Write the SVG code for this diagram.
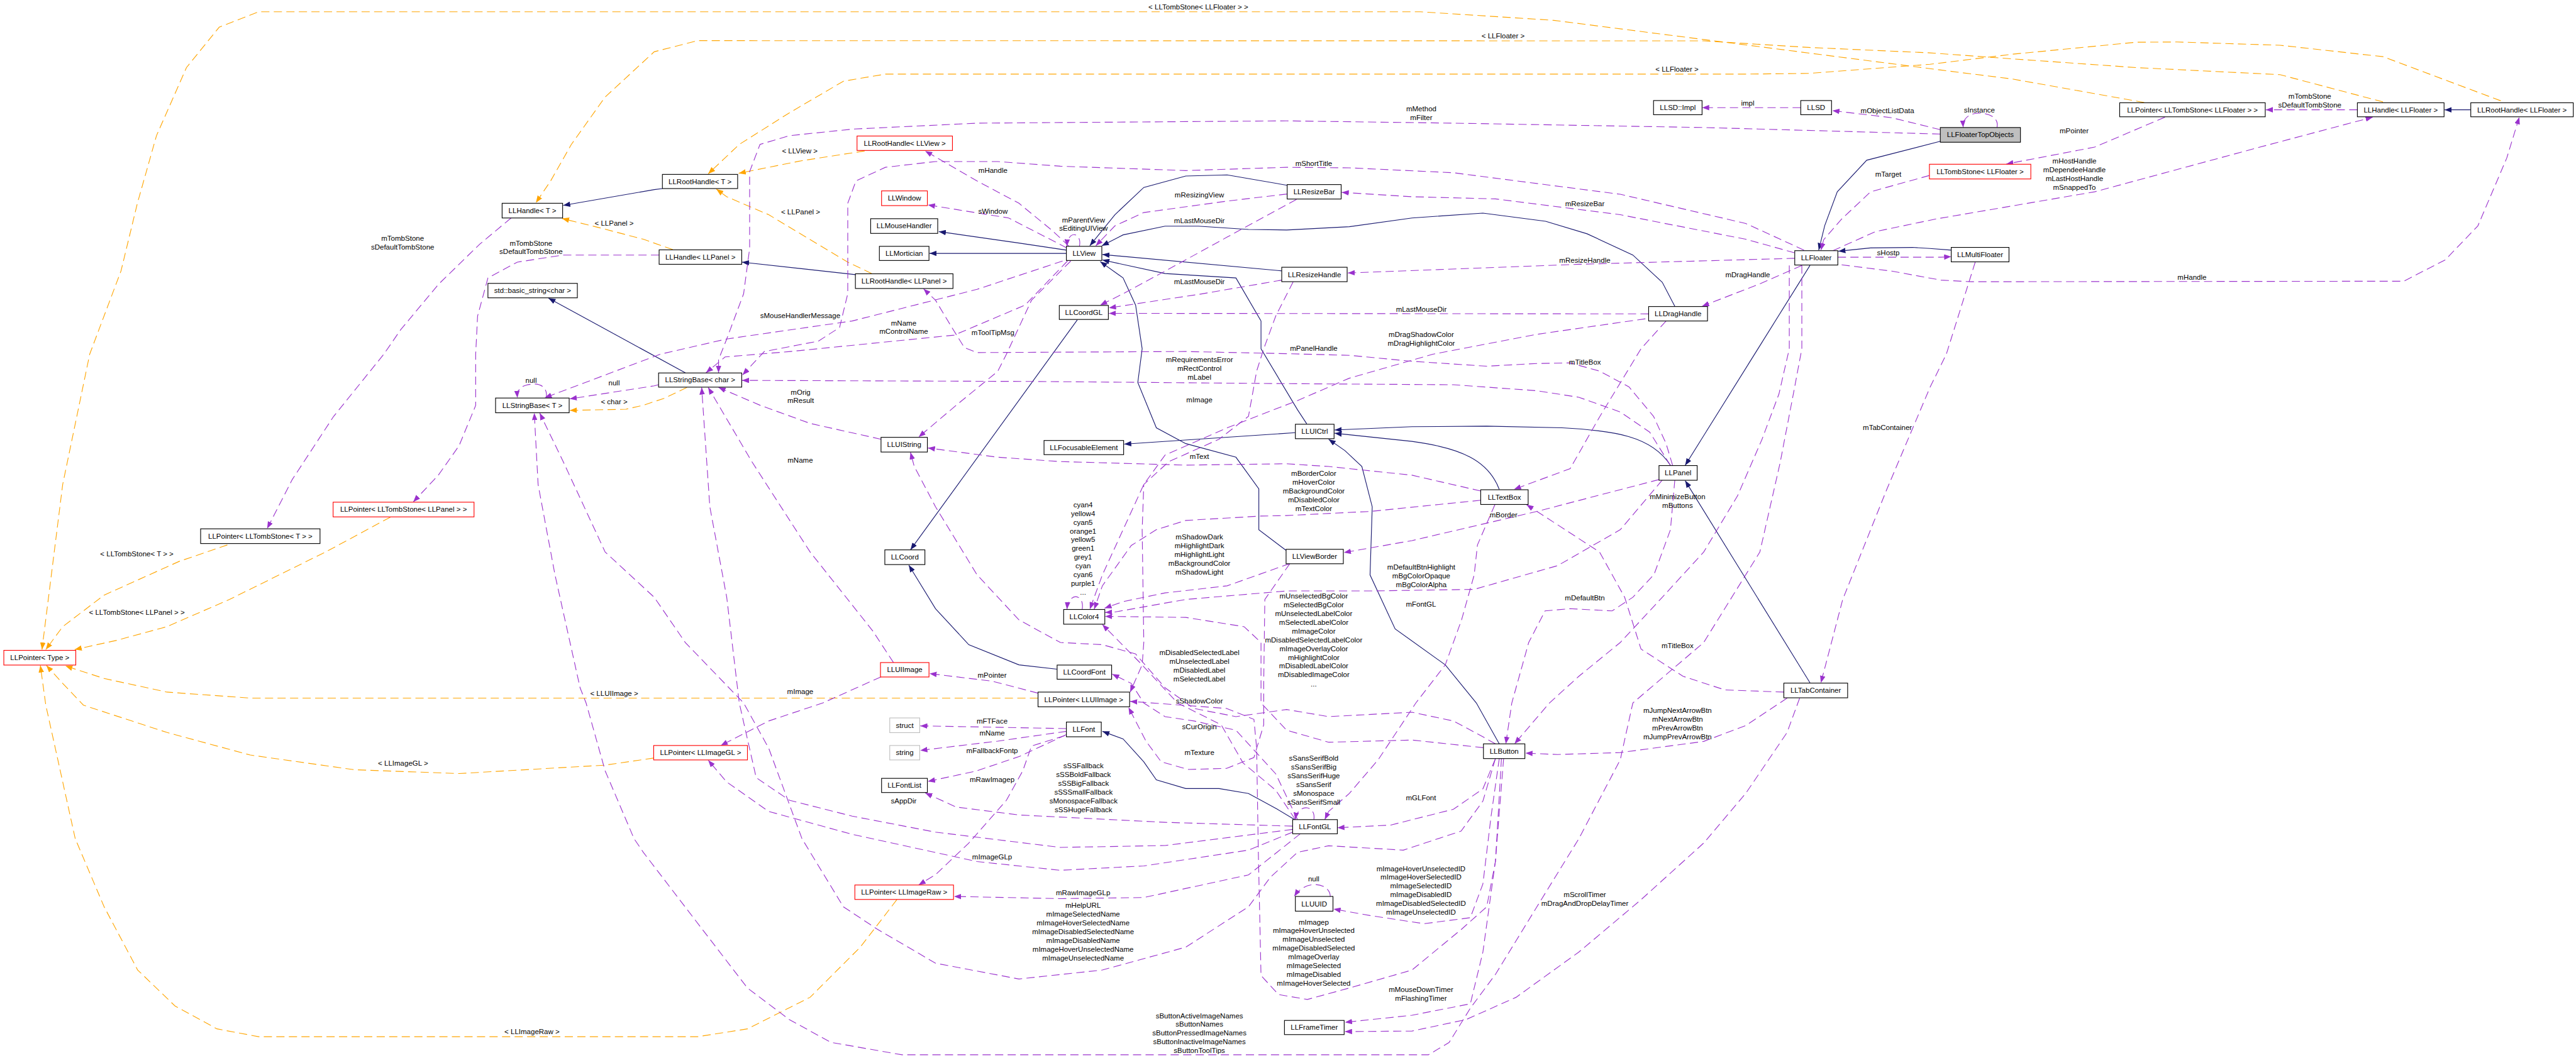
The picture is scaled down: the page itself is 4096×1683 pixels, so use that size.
<svg xmlns="http://www.w3.org/2000/svg" width="4096" height="1683" viewBox="0 0 4096 1683">
<defs>
<style>
.n rect{fill:#fff;stroke:#000;stroke-width:1.3}
.n.r rect{stroke:#ff0000}
.n.g rect{stroke:#bfbfbf}
.n.f rect{fill:#bfbfbf}
text{font-family:"Liberation Sans",Arial,sans-serif;font-size:13.3px;fill:#000;text-anchor:middle}
.e path{fill:none;stroke-width:1.3}
.e .i{stroke:#191970;marker-end:url(#an)}
.e .u{stroke:#9a32cd;stroke-dasharray:15,8;marker-end:url(#ap)}
.e .o{stroke:#ffa500;stroke-dasharray:15,8;marker-end:url(#ao)}
</style>
<marker id="an" viewBox="0 0 13 10" refX="13" refY="5" markerWidth="13" markerHeight="10" markerUnits="userSpaceOnUse" orient="auto"><path d="M0,0 L13,5 L0,10 z" fill="#191970"/></marker>
<marker id="ap" viewBox="0 0 13 10" refX="13" refY="5" markerWidth="13" markerHeight="10" markerUnits="userSpaceOnUse" orient="auto"><path d="M0,0 L13,5 L0,10 z" fill="#9a32cd"/></marker>
<marker id="ao" viewBox="0 0 13 10" refX="13" refY="5" markerWidth="13" markerHeight="10" markerUnits="userSpaceOnUse" orient="auto"><path d="M0,0 L13,5 L0,10 z" fill="#ffa500"/></marker>
</defs>
<rect width="4096" height="1683" fill="#fff"/>
<g transform="scale(0.866878)">
<g id="edges" class="e">
<!-- inheritance -->
<path class="i" d="M3560,259 L3424,294 L3370,352 L3347,414 L3336,459"/>
<path class="i" d="M3320,487 L3091,854"/>
<path class="i" d="M3579,459 L3540,456 L3508,454 L3431,455 L3372,461"/>
<path class="i" d="M3064,854 C3030,800 2960,790 2865,785 L2727,782 L2590,783 L2448,789"/>
<path class="i" d="M2750,898 C2730,845 2680,822 2590,810 L2448,795"/>
<path class="i" d="M3320,1253 L3091,882"/>
<path class="i" d="M2750,1365 L2708,1290 L2651,1220 L2559,1154 L2513,1055 L2517,930 L2498,856 L2467,827 L2437,806"/>
<path class="i" d="M2376,794 L2062,815"/>
<path class="i" d="M2397,778 L2380,752 L2313,640 L2313,589 L2267,510 L2137,502 L2022,477"/>
<path class="i" d="M2359,1010 L2309,972 L2309,897 L2267,839 L2175,814 L2121,785 L2087,702 L2095,640 L2083,560 L2060,510 L2018,480"/>
<path class="i" d="M2361,340 L2251,321 L2175,323 L2098,344 L2045,394 L1999,451"/>
<path class="i" d="M3072,562 L3049,518 L2995,468 L2911,429 L2835,406 L2720,391 L2590,400 L2475,416 L2360,422 L2290,421 L2198,415 L2137,415 L2060,431 L2021,451"/>
<path class="i" d="M2351,497 L2022,467"/>
<path class="i" d="M1956,459 L1869,446 L1722,425"/>
<path class="i" d="M1956,465 L1705,465"/>
<path class="i" d="M1976,587 L1670,1009"/>
<path class="i" d="M1939,1228 L1869,1220 L1777,1183 L1716,1117 L1667,1037"/>
<path class="i" d="M2378,1506 L2343,1485 L2290,1456 L2236,1447 L2175,1447 L2121,1431 L2098,1398 L2060,1356 L2022,1342"/>
<path class="i" d="M1569,504 L1361,481"/>
<path class="i" d="M1215,346 L1200,348 L1033,377"/>
<path class="i" d="M1257,684 L1006,547"/>
<path class="i" d="M4532,201.5 L4484,201.5"/>
<!-- templates -->
<path class="o" d="M3933,188 L3691,145 L3560,128.5 L3125,72.5 L2850,37.3 L2605,21.6 L474.5,21.6 L402,50 L342,124 L287,249 L252,373 L222,497 L164.5,650 L115,889 L77,1192"/>
<path class="o" d="M4371,187 L4182,137 L3918,124 L3691,108 L3540,97 L3317,87 L3125,75 L1279.5,74.6 L1200,95 L1110,178 L1048,265 L1010,332 L983,372"/>
<path class="o" d="M4587,185 L4371,104 L4182,83 L3993,77 L3918,77.5 L3691,99.5 L3540,118 L3317,134.7 L3200,136 L1624,136 L1547,149 L1448,207 L1356,265 L1299,319"/>
<path class="o" d="M1586,277 L1470,295 L1355,318"/>
<path class="o" d="M1599,502 L1555,481 L1410,394 L1333,361 L1314,347"/>
<path class="o" d="M1234,458 L1180,439 L1100,418 L1031,401"/>
<path class="o" d="M417,1000 L329,1030 L191,1092 L115,1150 L84,1192"/>
<path class="o" d="M716,949 L597,1013 L421,1100 L306,1150 L214,1175 L137,1192"/>
<path class="o" d="M1904,1281 L459,1281 L306,1270 L191,1245 L120,1222"/>
<path class="o" d="M1199,1391 L1110,1404 L842,1419.5 L650,1412.5 L459,1385.5 L306,1344 L153,1294 L115,1254 L85,1221"/>
<path class="o" d="M1645,1651 L1578,1738 L1486,1830 L1371,1888 L1279.5,1902.4 L474.5,1902.4 L398,1888 L321,1846 L252.5,1780 L191,1664 L138,1539 L84,1294 L74,1221"/>
<path class="o" d="M1260,711 L1218,731 L1180,743.6 L1148,751 L1045,753"/>
<!-- usage -->
<path class="u" d="M3663,234 C3668,212 3640,206 3625,208 C3608,210 3600,220 3601,234"/>
<path class="u" d="M3559,238 L3470,216 L3361,203"/>
<path class="u" d="M3303,197.5 L3122,197.5"/>
<path class="u" d="M3559,246 L3125,234 L2666,226 L2360,221.8 L1792,226 L1563,237 L1448,249 L1394,265 L1375,315 L1375,456 L1364,539 L1333,622 L1318,660 L1318,684"/>
<path class="u" d="M3971,215 L3842,270 L3680,301"/>
<path class="u" d="M4324,201.5 L4156,201.5"/>
<path class="u" d="M3362,460 L3440,425 L3550,402 L3842,352 L4145,270 L4352,215"/>
<path class="u" d="M3378,486 L3470,497.5 L3560,514 L3616,517 L4409,516 L4485,477 L4545,414.5 L4598,290 L4621,215"/>
<path class="u" d="M3371,472 L3560,472 L3579,471"/>
<path class="u" d="M3539,322 L3431,352 L3378,402 L3345,440 L3340,459"/>
<path class="u" d="M3292,464 L3202,439 L2972,394 L2743,365 L2590,361 L2461,353"/>
<path class="u" d="M3309,459 L3202,410 L2972,356.5 L2666,317 L2475,308 L2360,307 L2175,313 L1945,305 L1830,296.4 L1716,296.4 L1624,307 L1570,332 L1555,373 L1555,539 L1540,601 L1501,626 L1402,645 L1362,688"/>
<path class="u" d="M3292,474 L2896,485 L2472,501"/>
<path class="u" d="M3305,487 L3230,520 L3122,562"/>
<path class="u" d="M3018,585 L2819,613.5 L2628,650 L2590,661 L2475,694 L2380,735 L2251,785 L2137,835 L2098,889 L2060,972 L2022,1055 L1999,1118"/>
<path class="u" d="M1985,1118 C1990,1090 1960,1085 1957,1118"/>
<path class="u" d="M2366,1034 L2251,1075 L2137,1088 L2060,1104 L2026,1116"/>
<path class="u" d="M2716,918 L2513,938.5 L2360,946 L2313,947 L2175,955 L2121,972 L2075,1001 L2022,1075 L2007,1118"/>
<path class="u" d="M2716,901 L2590,872 L2437,856 L2360,851 L2175,853.5 L1945,847 L1830,839 L1702,822"/>
<path class="u" d="M3043,880 L2819,938.5 L2590,992 L2465,1014"/>
<path class="u" d="M3049,881 L2972,972 L2857,1038 L2704,1081.5 L2513,1084.4 L2360,1084.4 L2175,1100 L2045,1123 L2027,1124"/>
<path class="u" d="M2721,1372 L2590,1358 L2437,1362 L2360,1340 L2313,1290 L2313,1179 L2282,1150 L2175,1133 L2027,1131"/>
<path class="u" d="M2376,1504 L2340,1450 L2280,1400 L2240,1330 L2160,1290 L2090,1215 L2022,1146"/>
<path class="u" d="M2380,1504 L2340,1420 L2267,1340 L2190,1323 L2137,1315 L2098,1290 L2075,1254 L2040,1237"/>
<path class="u" d="M2366,1034 L2320,1100 L2318,1250 L2318,1330 L2300,1390 L2250,1410 L2180,1412 L2130,1398 L2102,1360 L2070,1298"/>
<path class="u" d="M2372,517 L2340,580 L2318,640 L2305,681 L2290,764 L2236,806 L2144,847 L2098,889 L2095,972 L2098,1179 L2095,1220 L2073,1270"/>
<path class="u" d="M3068,854 L3056,814 L3033,764 L2988,710 L2934,681 L2880,666 L2819,667 L2727,672 L2590,663 L2475,652 L2360,649 L2175,645 L1792,647 L1769,638 L1746,601 L1716,551 L1694,530"/>
<path class="u" d="M3064,854 L3026,793 L2972,756 L2896,729 L2819,717 L2666,706 L2360,704 L1900,700 L1361,698"/>
<path class="u" d="M1961,452 L1930,423 L1869,373 L1792,332 L1697,277"/>
<path class="u" d="M1957,455 L1850,400 L1702,376"/>
<path class="u" d="M1980,452 C1985,425 1958,422 1957,452"/>
<path class="u" d="M2361,356 L2251,369 L2098,390 L2045,414.5 L2010,451"/>
<path class="u" d="M2378,366 L2251,435 L2137,497.5 L2060,539 L2018,560"/>
<path class="u" d="M2351,514 L2200,540 L2034,565"/>
<path class="u" d="M3024,576 L2034,575"/>
<path class="u" d="M1949,479 L1792,531 L1563,589 L1333,622 L1211,650 L999,730"/>
<path class="u" d="M1958,479 L1880,560 L1750,615 L1600,630 L1450,645 L1330,655 L1295,684"/>
<path class="u" d="M1964,479 L1945,498 L1892,551 L1846,650 L1830,681.5 L1754,743.6 L1685,802"/>
<path class="u" d="M1616,806 L1486,777 L1394,743.6 L1318,711"/>
<path class="u" d="M1639,1216 L1601,1158 L1486,1013 L1379,847 L1299,711"/>
<path class="u" d="M1904,1272 L1820,1250 L1705,1236"/>
<path class="u" d="M1616,1242 L1509,1290 L1410,1323 L1322,1368"/>
<path class="u" d="M1956,1337 L1688,1332"/>
<path class="u" d="M1956,1342 L1830,1360 L1688,1377"/>
<path class="u" d="M1956,1348 L1870,1388 L1790,1415 L1702,1434"/>
<path class="u" d="M1953,1350 L1892,1369 L1876,1414.5 L1846,1468.5 L1777,1547 L1716,1605 L1685,1624"/>
<path class="u" d="M2385,1530 L2290,1605.5 L2098,1647 L1945,1649 L1750,1645"/>
<path class="u" d="M2371,1527 L2290,1560 L2098,1589 L1945,1597 L1792,1581 L1563,1531 L1410,1489 L1333,1435 L1299,1395"/>
<path class="u" d="M2371,1516 L2137,1509 L1869,1495.5 L1754,1481 L1697,1455"/>
<path class="u" d="M2371,1522 L2137,1551.6 L1945,1555 L1716,1527 L1563,1497.6 L1448,1468.5 L1387,1427 L1356,1290 L1333,1096 L1302,930 L1287,711"/>
<path class="u" d="M2410,1504 C2414,1476 2380,1474 2376,1504"/>
<path class="u" d="M2742,926 L2710,1000 L2704,1055 L2681,1137 L2651,1220 L2597,1290 L2528,1394 L2475,1456 L2437,1489 L2430,1504"/>
<path class="u" d="M2743,1392 L2720,1447.5 L2666,1485 L2551,1514 L2453,1519"/>
<path class="u" d="M2750,1392 L2735,1497.6 L2720,1622 L2697,1684 L2612,1695 L2513,1680 L2446,1668"/>
<path class="u" d="M2440,1645 C2440,1620 2395,1612 2374,1645"/>
<path class="u" d="M2754,1392 L2743,1581 L2727,1664 L2681,1705 L2590,1780 L2475,1813 L2398,1834 L2345,1825 L2313,1790 L2308,1560 L2305,1373 L2300,1320 L2250,1300 L2073,1287"/>
<path class="u" d="M2758,1392 L2743,1580 L2720,1747 L2697,1842 L2590,1863 L2467,1876"/>
<path class="u" d="M3301,1281 L3278,1344 L3202,1456 L3125,1547 L3010,1651 L2896,1747 L2781,1830 L2689,1871 L2590,1892 L2467,1893"/>
<path class="u" d="M3278,1281 L3202,1331.5 L3125,1360.5 L2972,1381 L2857,1384.5 L2798,1382"/>
<path class="u" d="M3272,1270 L3164,1266 L3087,1241 L3010,1191 L2980,1096 L2934,1013 L2857,963 L2800,926"/>
<path class="u" d="M3056,589 L3010,640 L2934,765 L2880,860 L2777,898"/>
<path class="u" d="M3623,481 L3570,650 L3540,711 L3460,900 L3380,1100 L3340,1253"/>
<path class="u" d="M3072,881 L3064,972 L3034,1054 L2995,1096 L2957,1121 L2880,1117 L2834,1121 L2804,1179 L2773,1290 L2762,1365"/>
<path class="u" d="M3282,487 L3282,640 L3263,723 L3232,806 L3187,910 L3125,1013 L3049,1096 L2972,1179 L2896,1241 L2842,1290 L2778,1365"/>
<path class="u" d="M3305,487 L3305,640 L3290,720 L3265,850 L3228,1013 L3125,1179 L2995,1290 L2972,1394 L2896,1539 L2819,1664 L2743,1788 L2697,1850 L2658,1913 L2620,1935.6 L1654.5,1935.6 L1524,1912.7 L1448,1871 L1371,1813 L1256.5,1664 L1180,1564 L1163,1539 L1110,1414.5 L1075,1290 L1064,1262 L1018,1055 L987,889 L980,758"/>
<path class="u" d="M2743,1392 L2720,1470 L2680,1525 L2574,1560 L2437,1552 L2380,1564 L2330,1610 L2290,1664 L2175,1738 L2022,1780 L1869,1796.5 L1716,1767.5 L1609,1705 L1547,1664 L1471,1539 L1410,1373 L1364,1290 L1257,1179 L1200,1096 L1110,1013 L1033,847 L990,758"/>
<path class="u" d="M2743,1365 L2720,1352 L2666,1323 L2590,1307 L2437,1315 L2360,1302 L2267,1315 L2190,1300 L2137,1262 L2083,1200 L2022,1183 L1945,1179 L1869,1137.5 L1792,1054.6 L1716,930 L1677,856 L1670,830"/>
<path class="u" d="M1209,468 L1033,468 L949,481 L895,510 L876,580 L872.5,650 L872.5,744 L842,818 L804,872 L758,921"/>
<path class="u" d="M937.5,400 L880,448 L804,522 L735,605 L704,650 L612,764 L536,880 L490,970"/>
<path class="u" d="M1208,706 L1200,708 L1045,732"/>
<path class="u" d="M1002,730 C1005,710 990,703 975,705 C955,707 948,715 949,730"/>
</g>
<g id="labels">
<text x="2198" y="17">&lt; LLTombStone&lt; LLFloater &gt; &gt;</text>
<text x="2757" y="70">&lt; LLFloater &gt;</text>
<text x="3076" y="132">&lt; LLFloater &gt;</text>
<text x="1467" y="282">&lt; LLView &gt;</text>
<text x="1468.5" y="393">&lt; LLPanel &gt;</text>
<text x="1126.5" y="414.5">&lt; LLPanel &gt;</text>
<text x="251" y="1020.5">&lt; LLTombStone&lt; T &gt; &gt;</text>
<text x="251" y="1128.3">&lt; LLTombStone&lt; LLPanel &gt; &gt;</text>
<text x="1126.5" y="1276.5">&lt; LLUIImage &gt;</text>
<text x="739.3" y="1404.5">&lt; LLImageGL &gt;</text>
<text x="975.8" y="1897.7">&lt; LLImageRaw &gt;</text>
<text x="1126.5" y="742.3">&lt; char &gt;</text>
<text x="3630.7" y="206.5">sInstance</text>
<text x="3462" y="208">mObjectListData</text>
<text x="3205.7" y="193.5">impl</text>
<text x="2607" y="204.3">mMethod<tspan x="2607" dy="15.8">mFilter</tspan></text>
<text x="3804.5" y="244.9">mPointer</text>
<text x="4236.8" y="181.5">mTombStone<tspan x="4236.8" dy="15.8">sDefaultTombStone</tspan></text>
<text x="3805" y="300.1">mHostHandle<tspan x="3805" dy="16.1">mDependeeHandle</tspan><tspan x="3805" dy="16.1">mLastHostHandle</tspan><tspan x="3805" dy="16.1">mSnappedTo</tspan></text>
<text x="4020.6" y="513.5">mHandle</text>
<text x="3463.6" y="324.1">mTarget</text>
<text x="3463.6" y="468">sHostp</text>
<text x="2409.7" y="305">mShortTitle</text>
<text x="2907" y="378">mResizeBar</text>
<text x="2907" y="482">mResizeHandle</text>
<text x="3205.7" y="509">mDragHandle</text>
<text x="2607" y="572">mLastMouseDir</text>
<text x="2607" y="618">mDragShadowColor<tspan x="2607" dy="16.1">mDragHighlightColor</tspan></text>
<text x="2409.7" y="644.1">mPanelHandle</text>
<text x="1821.3" y="317.1">mHandle</text>
<text x="1821.3" y="392.1">sWindow</text>
<text x="2200" y="361.8">mResizingView</text>
<text x="1987.4" y="407.8">mParentView<tspan x="1987.4" dy="16.1">sEditingUIView</tspan></text>
<text x="2200" y="409.1">mLastMouseDir</text>
<text x="2200" y="521">mLastMouseDir</text>
<text x="1467.8" y="584">sMouseHandlerMessage</text>
<text x="1657.6" y="597.3">mName<tspan x="1657.6" dy="15.8">mControlName</tspan></text>
<text x="1821.3" y="614.3">mToolTipMsg</text>
<text x="738.5" y="442.3">mTombStone<tspan x="738.5" dy="16.1">sDefaultTombStone</tspan></text>
<text x="974" y="450.5">mTombStone<tspan x="974" dy="16.1">sDefaultTombStone</tspan></text>
<text x="974.2" y="702.5">null</text>
<text x="1126.5" y="706.7">null</text>
<text x="2200" y="664">mRequirementsError<tspan x="2200" dy="16.1">mRectControl</tspan><tspan x="2200" dy="16.1">mLabel</tspan></text>
<text x="1468.5" y="724.1">mOrig<tspan x="1468.5" dy="15.7">mResult</tspan></text>
<text x="2200" y="738.2">mImage</text>
<text x="2200" y="842.2">mText</text>
<text x="1467.8" y="848.9">mName</text>
<text x="1986.6" y="930.5">cyan4<tspan x="1986.6" dy="16.1">yellow4</tspan><tspan x="1986.6" dy="16.1">cyan5</tspan><tspan x="1986.6" dy="16.1">orange1</tspan><tspan x="1986.6" dy="16.1">yellow5</tspan><tspan x="1986.6" dy="16.1">green1</tspan><tspan x="1986.6" dy="16.1">grey1</tspan><tspan x="1986.6" dy="16.1">cyan</tspan><tspan x="1986.6" dy="16.1">cyan6</tspan><tspan x="1986.6" dy="16.1">purple1</tspan><tspan x="1986.6" dy="16.1">...</tspan></text>
<text x="2200" y="989.8">mShadowDark<tspan x="2200" dy="16.1">mHighlightDark</tspan><tspan x="2200" dy="16.1">mHighlightLight</tspan><tspan x="2200" dy="16.1">mBackgroundColor</tspan><tspan x="2200" dy="16.1">mShadowLight</tspan></text>
<text x="2200" y="1202.1">mDisabledSelectedLabel<tspan x="2200" dy="16.1">mUnselectedLabel</tspan><tspan x="2200" dy="16.1">mDisabledLabel</tspan><tspan x="2200" dy="16.1">mSelectedLabel</tspan></text>
<text x="1819.8" y="1243.9">mPointer</text>
<text x="1467.8" y="1273.4">mImage</text>
<text x="2200" y="1291.2">sShadowColor</text>
<text x="2907.2" y="669.4">mTitleBox</text>
<text x="2409.7" y="872.9">mBorderColor<tspan x="2409.7" dy="16.1">mHoverColor</tspan><tspan x="2409.7" dy="16.1">mBackgroundColor</tspan><tspan x="2409.7" dy="16.1">mDisabledColor</tspan><tspan x="2409.7" dy="16.1">mTextColor</tspan></text>
<text x="3077" y="916">mMinimizeButton<tspan x="3077" dy="16.2">mButtons</tspan></text>
<text x="2758" y="949.2">mBorder</text>
<text x="3462" y="789.2">mTabContainer</text>
<text x="2607" y="1045.4">mDefaultBtnHighlight<tspan x="2607" dy="16">mBgColorOpaque</tspan><tspan x="2607" dy="16">mBgColorAlpha</tspan></text>
<text x="2907" y="1102.2">mDefaultBtn</text>
<text x="2606.4" y="1112.9">mFontGL</text>
<text x="2409.7" y="1098">mUnselectedBgColor<tspan x="2409.7" dy="16.1">mSelectedBgColor</tspan><tspan x="2409.7" dy="16.1">mUnselectedLabelColor</tspan><tspan x="2409.7" dy="16.1">mSelectedLabelColor</tspan><tspan x="2409.7" dy="16.1">mImageColor</tspan><tspan x="2409.7" dy="16.1">mDisabledSelectedLabelColor</tspan><tspan x="2409.7" dy="16.1">mImageOverlayColor</tspan><tspan x="2409.7" dy="16.1">mHighlightColor</tspan><tspan x="2409.7" dy="16.1">mDisabledLabelColor</tspan><tspan x="2409.7" dy="16.1">mDisabledImageColor</tspan><tspan x="2409.7" dy="17">...</tspan></text>
<text x="3077" y="1188.8">mTitleBox</text>
<text x="1819.8" y="1328.1">mFTFace</text>
<text x="1819.8" y="1350.1">mName</text>
<text x="1819.8" y="1382.1">mFallbackFontp</text>
<text x="1819.8" y="1434.5">mRawImagep</text>
<text x="1657.6" y="1474.3">sAppDir</text>
<text x="1987.4" y="1409.9">sSSFallback<tspan x="1987.4" dy="16.1">sSSBoldFallback</tspan><tspan x="1987.4" dy="16.1">sSSBigFallback</tspan><tspan x="1987.4" dy="16.1">sSSSmallFallback</tspan><tspan x="1987.4" dy="16.1">sMonospaceFallback</tspan><tspan x="1987.4" dy="16.1">sSSHugeFallback</tspan></text>
<text x="2200" y="1338.5">sCurOrigin</text>
<text x="2200" y="1385">mTexture</text>
<text x="1819.8" y="1576.4">mImageGLp</text>
<text x="1986.6" y="1642.5">mRawImageGLp</text>
<text x="1986.6" y="1666.1">mHelpURL<tspan x="1986.6" dy="16.05">mImageSelectedName</tspan><tspan x="1986.6" dy="16.05">mImageHoverSelectedName</tspan><tspan x="1986.6" dy="16.05">mImageDisabledSelectedName</tspan><tspan x="1986.6" dy="16.05">mImageDisabledName</tspan><tspan x="1986.6" dy="16.05">mImageHoverUnselectedName</tspan><tspan x="1986.6" dy="16.05">mImageUnselectedName</tspan></text>
<text x="2200" y="1868.3">sButtonActiveImageNames<tspan x="2200" dy="15.9">sButtonNames</tspan><tspan x="2200" dy="15.9">sButtonPressedImageNames</tspan><tspan x="2200" dy="15.9">sButtonInactiveImageNames</tspan><tspan x="2200" dy="15.9">sButtonToolTips</tspan></text>
<text x="3077" y="1308.2">mJumpNextArrowBtn<tspan x="3077" dy="16.1">mNextArrowBtn</tspan><tspan x="3077" dy="16.1">mPrevArrowBtn</tspan><tspan x="3077" dy="16.1">mJumpPrevArrowBtn</tspan></text>
<text x="2409.7" y="1396.2">sSansSerifBold<tspan x="2409.7" dy="16">sSansSerifBig</tspan><tspan x="2409.7" dy="16">sSansSerifHuge</tspan><tspan x="2409.7" dy="16">sSansSerif</tspan><tspan x="2409.7" dy="16">sMonospace</tspan><tspan x="2409.7" dy="16">sSansSerifSmall</tspan></text>
<text x="2606.4" y="1468">mGLFont</text>
<text x="2606.4" y="1598.4">mImageHoverUnselectedID<tspan x="2606.4" dy="16">mImageHoverSelectedID</tspan><tspan x="2606.4" dy="16">mImageSelectedID</tspan><tspan x="2606.4" dy="16">mImageDisabledID</tspan><tspan x="2606.4" dy="16">mImageDisabledSelectedID</tspan><tspan x="2606.4" dy="16">mImageUnselectedID</tspan></text>
<text x="2409.7" y="1617.5">null</text>
<text x="2409.7" y="1696.4">mImagep<tspan x="2409.7" dy="16">mImageHoverUnselected</tspan><tspan x="2409.7" dy="16">mImageUnselected</tspan><tspan x="2409.7" dy="16">mImageDisabledSelected</tspan><tspan x="2409.7" dy="16">mImageOverlay</tspan><tspan x="2409.7" dy="16">mImageSelected</tspan><tspan x="2409.7" dy="16">mImageDisabled</tspan><tspan x="2409.7" dy="16">mImageHoverSelected</tspan></text>
<text x="2907" y="1646.2">mScrollTimer<tspan x="2907" dy="15.7">mDragAndDropDelayTimer</tspan></text>
<text x="2606.4" y="1820.1">mMouseDownTimer<tspan x="2606.4" dy="16.2">mFlashingTimer</tspan></text>
</g>
<g id="n1" class="n f"><rect x="3559" y="234" width="147" height="27"/><text x="3632.5" y="252">LLFloaterTopObjects</text></g>
<g id="n2" class="n"><rect x="3033" y="184.5" width="89" height="26"/><text x="3077.5" y="202">LLSD::Impl</text></g>
<g id="n3" class="n"><rect x="3303" y="184.5" width="56.5" height="26"/><text x="3331.2" y="202">LLSD</text></g>
<g id="n4" class="n"><rect x="3888" y="188.6" width="267" height="25.7"/><text x="4021.5" y="206">LLPointer&lt; LLTombStone&lt; LLFloater &gt; &gt;</text></g>
<g id="n5" class="n"><rect x="4324" y="188.6" width="159" height="25.7"/><text x="4403.5" y="206">LLHandle&lt; LLFloater &gt;</text></g>
<g id="n6" class="n"><rect x="4532" y="188.6" width="188" height="25.7"/><text x="4626" y="206">LLRootHandle&lt; LLFloater &gt;</text></g>
<g id="n7" class="n r"><rect x="3539" y="301.4" width="186" height="27"/><text x="3632" y="319.4">LLTombStone&lt; LLFloater &gt;</text></g>
<g id="n8" class="n"><rect x="3292" y="460" width="79" height="26.3"/><text x="3331.5" y="477.6">LLFloater</text></g>
<g id="n9" class="n"><rect x="3579" y="454" width="106" height="26.5"/><text x="3632" y="471.8">LLMultiFloater</text></g>
<g id="n10" class="n"><rect x="2361" y="338.7" width="99" height="26.5"/><text x="2410.5" y="356.4">LLResizeBar</text></g>
<g id="n11" class="n"><rect x="2351" y="490.4" width="120" height="26.5"/><text x="2411" y="508.2">LLResizeHandle</text></g>
<g id="n12" class="n"><rect x="3024" y="562.5" width="108" height="26.5"/><text x="3078" y="580.3">LLDragHandle</text></g>
<g id="n13" class="n r"><rect x="1572" y="249.6" width="175" height="26.5"/><text x="1659.5" y="267.4">LLRootHandle&lt; LLView &gt;</text></g>
<g id="n14" class="n r"><rect x="1617" y="350.3" width="84" height="27"/><text x="1659" y="368.3">LLWindow</text></g>
<g id="n15" class="n"><rect x="1597" y="401.3" width="123" height="27"/><text x="1658.5" y="419.3">LLMouseHandler</text></g>
<g id="n16" class="n"><rect x="1613" y="452" width="91" height="26"/><text x="1658.5" y="469.5">LLMortician</text></g>
<g id="n17" class="n"><rect x="1956" y="452" width="65" height="26"/><text x="1988.5" y="469.5">LLView</text></g>
<g id="n18" class="n"><rect x="1215" y="320" width="138" height="26"/><text x="1284" y="337.5">LLRootHandle&lt; T &gt;</text></g>
<g id="n19" class="n"><rect x="921" y="373" width="111" height="27"/><text x="976.5" y="391">LLHandle&lt; T &gt;</text></g>
<g id="n20" class="n"><rect x="1209" y="458.5" width="151.5" height="26.5"/><text x="1284.7" y="476.3">LLHandle&lt; LLPanel &gt;</text></g>
<g id="n21" class="n"><rect x="1569" y="502.4" width="179" height="27"/><text x="1658.5" y="520.4">LLRootHandle&lt; LLPanel &gt;</text></g>
<g id="n22" class="n"><rect x="1943" y="560.5" width="90" height="25.7"/><text x="1988" y="577.8">LLCoordGL</text></g>
<g id="n23" class="n"><rect x="895" y="520" width="164" height="26.5"/><text x="977" y="537.8">std::basic_string&lt;char &gt;</text></g>
<g id="n24" class="n"><rect x="909" y="730.4" width="135" height="27"/><text x="976.5" y="748.4">LLStringBase&lt; T &gt;</text></g>
<g id="n25" class="n"><rect x="1208" y="684.4" width="152.5" height="26"/><text x="1284.2" y="701.9">LLStringBase&lt; char &gt;</text></g>
<g id="n26" class="n r"><rect x="611" y="921.5" width="258.5" height="27"/><text x="740.2" y="939.5">LLPointer&lt; LLTombStone&lt; LLPanel &gt; &gt;</text></g>
<g id="n27" class="n"><rect x="368" y="970.4" width="219" height="27"/><text x="477.5" y="988.4">LLPointer&lt; LLTombStone&lt; T &gt; &gt;</text></g>
<g id="n28" class="n r"><rect x="7" y="1193.4" width="132" height="27"/><text x="73" y="1211.4">LLPointer&lt; Type &gt;</text></g>
<g id="n29" class="n"><rect x="1616" y="802.5" width="85" height="27"/><text x="1658.5" y="820.5">LLUIString</text></g>
<g id="n30" class="n"><rect x="1915" y="808.3" width="146" height="26"/><text x="1988" y="825.8">LLFocusableElement</text></g>
<g id="n31" class="n"><rect x="2376" y="778.5" width="71" height="26.5"/><text x="2411.5" y="796.3">LLUICtrl</text></g>
<g id="n32" class="n"><rect x="2716" y="898.7" width="87" height="27"/><text x="2759.5" y="916.7">LLTextBox</text></g>
<g id="n33" class="n"><rect x="3043" y="854.3" width="70" height="27"/><text x="3078" y="872.3">LLPanel</text></g>
<g id="n34" class="n"><rect x="1623" y="1009" width="73.5" height="27"/><text x="1659.7" y="1027">LLCoord</text></g>
<g id="n35" class="n"><rect x="1951" y="1118.4" width="75.5" height="27"/><text x="1988.7" y="1136.4">LLColor4</text></g>
<g id="n36" class="n"><rect x="2359" y="1008" width="105" height="26.5"/><text x="2411.5" y="1025.8">LLViewBorder</text></g>
<g id="n37" class="n r"><rect x="1615" y="1215.8" width="89" height="26.5"/><text x="1659.5" y="1233.6">LLUIImage</text></g>
<g id="n38" class="n"><rect x="1939" y="1220.4" width="100" height="26"/><text x="1989" y="1237.9">LLCoordFont</text></g>
<g id="n39" class="n"><rect x="1904" y="1270" width="168" height="27"/><text x="1988" y="1288">LLPointer&lt; LLUIImage &gt;</text></g>
<g id="n40" class="n"><rect x="3272" y="1253.5" width="117" height="27"/><text x="3330.5" y="1271.5">LLTabContainer</text></g>
<g id="n41" class="n g"><rect x="1632" y="1317.4" width="55" height="27"/><text x="1659.5" y="1335.4">struct</text></g>
<g id="n42" class="n"><rect x="1956" y="1325" width="64" height="27"/><text x="1988" y="1343">LLFont</text></g>
<g id="n43" class="n g"><rect x="1632" y="1368" width="55" height="26.5"/><text x="1659.5" y="1385.8">string</text></g>
<g id="n44" class="n"><rect x="1617" y="1428.3" width="84" height="26"/><text x="1659" y="1445.8">LLFontList</text></g>
<g id="n45" class="n r"><rect x="1199" y="1368" width="172" height="26.5"/><text x="1285" y="1385.8">LLPointer&lt; LLImageGL &gt;</text></g>
<g id="n46" class="n r"><rect x="1568" y="1624" width="181" height="26.5"/><text x="1658.5" y="1641.8">LLPointer&lt; LLImageRaw &gt;</text></g>
<g id="n47" class="n"><rect x="2371" y="1504" width="82" height="26"/><text x="2412" y="1521.5">LLFontGL</text></g>
<g id="n48" class="n"><rect x="2721" y="1365" width="76" height="27"/><text x="2759" y="1383">LLButton</text></g>
<g id="n49" class="n"><rect x="2376" y="1645" width="69" height="27"/><text x="2410.5" y="1663">LLUUID</text></g>
<g id="n50" class="n"><rect x="2356" y="1872.5" width="109.5" height="26"/><text x="2410.7" y="1890">LLFrameTimer</text></g>
</g>
</svg>
